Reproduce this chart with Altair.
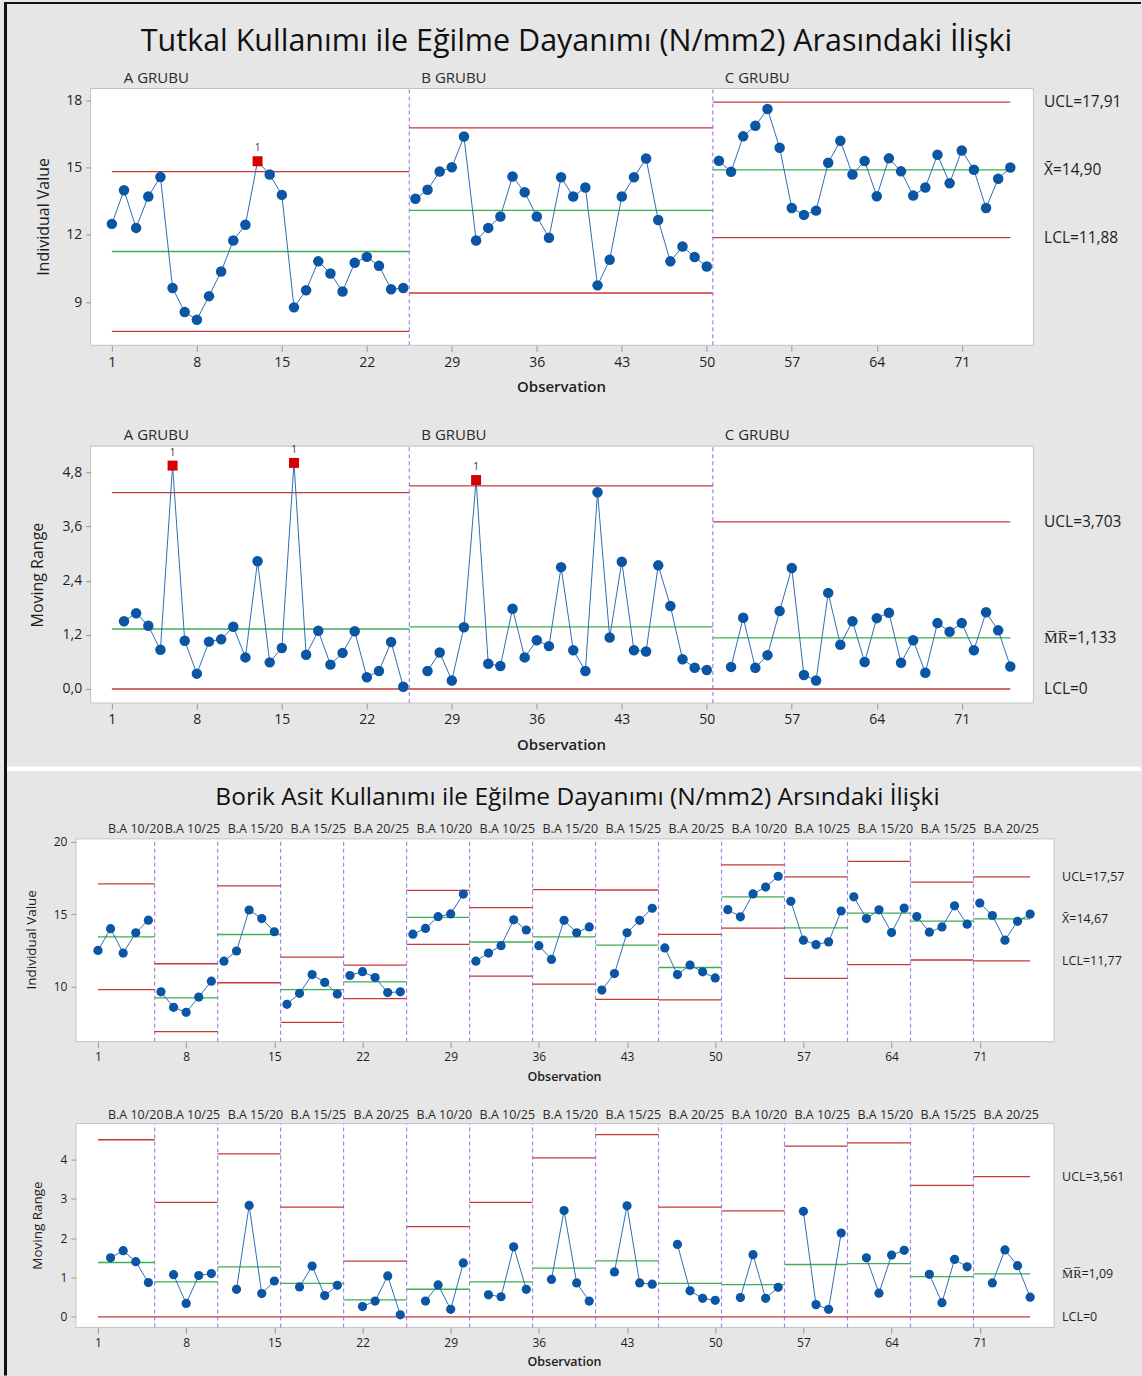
import altair as alt
import pandas as pd

# ---------------- data ----------------
grup_a = [12.49, 13.99, 12.31, 13.71, 14.58, 9.63, 8.56, 8.22, 9.27, 10.37,
          11.75, 12.45, 15.28, 14.69, 13.78, 8.77, 9.53, 10.82, 10.28, 9.48,
          10.76, 11.02, 10.62, 9.58, 9.63]
grup_b = [13.61, 14.01, 14.82, 15.01, 16.38, 11.75, 12.31, 12.82, 14.60, 13.90,
          12.82, 11.87, 14.57, 13.71, 14.11, 9.75, 10.89, 13.71, 14.57, 15.40,
          12.66, 10.82, 11.48, 11.01, 10.59]
grup_c = [15.30, 14.81, 16.39, 16.86, 17.61, 15.88, 13.20, 12.89, 13.08, 15.21,
          16.19, 14.69, 15.29, 13.72, 15.41, 14.83, 13.75, 14.11, 15.57, 14.30,
          15.76, 14.90, 13.20, 14.50, 15.00]
values = grup_a + grup_b + grup_c

top_stages = ["A GRUBU", "B GRUBU", "C GRUBU"]
top_i_ucl = [14.82, 16.77, 17.91]
top_i_cl = [11.26, 13.09, 14.90]
top_i_lcl = [7.70, 9.41, 11.88]
top_mr_ucl = [4.35, 4.50, 3.703]
top_mr_cl = [1.33, 1.377, 1.133]
top_mr_lcl = [0, 0, 0]

bot_stages = ["B.A 10/20", "B.A 10/25", "B.A 15/20", "B.A 15/25", "B.A 20/25"] * 3
bot_i_ucl = [17.09, 11.57, 16.95, 12.03, 11.48, 16.63, 15.44, 16.68, 16.66, 13.60,
             18.40, 17.57, 18.63, 17.21, 17.57]
bot_i_cl = [13.42, 9.21, 13.59, 9.78, 10.32, 14.77, 13.07, 13.42, 12.86, 11.31,
            16.19, 14.05, 15.06, 14.51, 14.67]
bot_i_lcl = [9.78, 6.89, 10.26, 7.53, 9.16, 12.91, 10.72, 10.17, 9.11, 9.07,
             14.03, 10.56, 11.51, 11.83, 11.77]
bot_mr_ucl = [4.50, 2.91, 4.14, 2.79, 1.415, 2.29, 2.91, 4.04, 4.63, 2.79,
              2.69, 4.34, 4.42, 3.34, 3.561]
bot_mr_cl = [1.38, 0.89, 1.27, 0.85, 0.43, 0.70, 0.89, 1.24, 1.42, 0.85,
             0.82, 1.33, 1.35, 1.02, 1.09]
bot_mr_lcl = [0] * 15

x_ticks = [1, 8, 15, 22, 29, 36, 43, 50, 57, 64, 71]

top_i_right = (["UCL=17,91", "X\u0304=14,90", "LCL=11,88"], [17.91, 14.90, 11.88])
top_mr_right = (["UCL=3,703", "M\u0305R\u0305=1,133", "LCL=0"], [3.703, 1.133, 0.0])
bot_i_right = (["UCL=17,57", "X\u0304=14,67", "LCL=11,77"], [17.57, 14.67, 11.77])
bot_mr_right = (["UCL=3,561", "M\u0305R\u0305=1,09", "LCL=0"], [3.561, 1.09, 0.0])

title_top = "Tutkal Kullanımı ile Eğilme Dayanımı (N/mm2) Arasındaki İlişki"
title_bot = "Borik Asit Kullanımı ile Eğilme Dayanımı (N/mm2) Arsındaki İlişki"

# ---------------- styling ----------------
BG = "#e6e6e6"
FONT = "Open Sans"
RED = "#c4393b"
GREEN = "#3fae52"
PURPLE = "#a184ec"
PT = "#0b56a4"
LINE = "#2f6db5"
SQ = "#d60000"
XDOM = [-0.75, 76.9]
N = len(values)


def tables(size, ucl, cl, lcl, moving):
    n = N // size
    pts = []
    for i, v in enumerate(values):
        s = i // size
        if moving:
            if i % size == 0:
                continue
            val = round(abs(v - values[i - 1]), 3)
        else:
            val = v
        pts.append({"obs": i + 1, "val": val, "stage": s,
                    "flag": bool(val > ucl[s] or val < lcl[s])})
    lims = []
    for s in range(n):
        start = 1 if s == 0 else s * size + 0.5
        end = N if s == n - 1 else (s + 1) * size + 0.5
        for kind, y in (("UCL", ucl[s]), ("CL", cl[s]), ("LCL", lcl[s])):
            lims.append({"start": start, "end": end, "y": y, "kind": kind})
    bounds = [s * size + 0.5 for s in range(1, n)]
    starts = [1] + bounds
    return pd.DataFrame(pts), pd.DataFrame(lims), bounds, starts


def panel(size, names, ucl, cl, lcl, moving, right, cfg):
    pts, lims, bounds, starts = tables(size, ucl, cl, lcl, moving)
    ydom = cfg["ydom"]
    xs = alt.Scale(domain=XDOM, nice=False, zero=False, range=cfg["xrange"])
    ys = alt.Scale(domain=ydom, nice=False, zero=False, range=[cfg["h"], cfg["ft"]])
    xaxis = alt.Axis(values=x_ticks, title=None, domain=False, grid=False,
                     tickSize=6, tickColor="#9a9a9a", labelFontSize=cfg["fs"],
                     labelColor="#1e1e1e", labelPadding=4, labelFlush=False,
                     labelOverlap=False, labelFont=FONT, zindex=2)
    ykw = dict(values=cfg["yticks"], title=None, domain=False, grid=False,
               tickSize=5, tickColor="#9a9a9a", labelFontSize=cfg["fs"],
               labelColor="#1e1e1e", labelPadding=4, offset=cfg["yoff"],
               labelOverlap=False, labelFont=FONT, zindex=2)
    if cfg.get("yexpr"):
        ykw["labelExpr"] = cfg["yexpr"]
    yaxis = alt.Axis(**ykw)

    def X(f):
        return alt.X(f, type="quantitative", scale=xs, axis=xaxis)

    def Y(f):
        return alt.Y(f, type="quantitative", scale=ys, axis=yaxis)

    one = pd.DataFrame({"a": [0]})
    layers = list(cfg.get("pre", []))

    frame_df = pd.DataFrame({"x0": [XDOM[0]], "x1": [XDOM[1]], "y0": [ydom[0]], "y1": [ydom[1]]})
    layers.append(alt.Chart(frame_df).mark_rect(fill="white", stroke="#c4c4c4", strokeWidth=1)
                  .encode(x=X("x0"), x2="x1", y=Y("y0"), y2="y1"))

    bdf = pd.DataFrame({"pos": bounds, "y0": [ydom[0]] * len(bounds), "y1": [ydom[1]] * len(bounds)})
    layers.append(alt.Chart(bdf).mark_rule(color=PURPLE, strokeDash=[4, 3], strokeWidth=1.2)
                  .encode(x=X("pos"), y=Y("y0"), y2="y1"))

    layers.append(alt.Chart(lims).mark_rule(strokeWidth=1.3)
                  .encode(x=X("start"), x2="end", y=Y("y"),
                          color=alt.Color("kind:N", legend=None,
                                          scale=alt.Scale(domain=["UCL", "CL", "LCL"],
                                                          range=[RED, GREEN, RED]))))

    layers.append(alt.Chart(pts).mark_line(color=LINE, strokeWidth=1)
                  .encode(x=X("obs"), y=Y("val"), detail="stage:N"))

    layers.append(alt.Chart(pts[~pts["flag"]]).mark_circle(size=cfg["ps"], color=PT, opacity=1)
                  .encode(x=X("obs"), y=Y("val")))

    flagged = pts[pts["flag"]]
    if len(flagged):
        layers.append(alt.Chart(flagged).mark_square(size=cfg["ps"] - 10, color=SQ, opacity=1)
                      .encode(x=X("obs"), y=Y("val")))
        layers.append(alt.Chart(flagged).mark_text(text="1", dy=-13, fontSize=10, font=FONT,
                                                  color="#333333")
                      .encode(x=X("obs"), y=Y("val")))

    rdf = pd.DataFrame({"t": right[0], "v": right[1]})
    layers.append(alt.Chart(rdf).mark_text(align="left", baseline="middle", fontSize=cfg["rfs"],
                                           font=FONT, color="#1e1e1e")
                  .encode(x=alt.value(cfg["rx"]), y=Y("v"), text="t:N"))

    sdf = pd.DataFrame({"pos": starts, "name": names})
    layers.append(alt.Chart(sdf).mark_text(align="left", baseline="middle", dx=cfg["sdx"],
                                           fontSize=cfg["sfs"], font=FONT, color="#2a2a2a")
                  .encode(x=X("pos"), y=alt.value(cfg["sy"]), text="name:N"))

    layers.append(alt.Chart(one).mark_text(text=cfg["ytitle"], angle=270, align="center",
                                           baseline="middle", fontSize=cfg["ytfs"], font=FONT,
                                           color="#1e1e1e")
                  .encode(x=alt.value(cfg["ytx"]), y=alt.value(cfg["yty"])))
    layers.append(alt.Chart(one).mark_text(text="Observation", align="center", baseline="middle",
                                           fontSize=cfg["tfs"], font=FONT, fontWeight=600,
                                           color="#1e1e1e")
                  .encode(x=alt.value(cfg["otx"]), y=alt.value(cfg["oty"])))
    layers += cfg.get("post", [])
    return alt.layer(*layers).properties(width=979, height=cfg["h"])


one = pd.DataFrame({"a": [0]})
pre_c1 = [
    alt.Chart(one).mark_rect(color=BG).encode(x=alt.value(-76), x2=alt.value(1066),
                                              y=alt.value(-88), y2=alt.value(1288)),
    alt.Chart(one).mark_rule(color="#111111", strokeWidth=3).encode(
        x=alt.value(-70.5), y=alt.value(-86), y2=alt.value(1288)),
    alt.Chart(one).mark_rule(color="#111111", strokeWidth=2).encode(
        x=alt.value(-72), x2=alt.value(1066), y=alt.value(-85.5)),
    alt.Chart(one).mark_text(text=title_top, align="center", baseline="middle", fontSize=30.5,
                             font=FONT, color="#111111").encode(x=alt.value(501), y=alt.value(-47)),
]
pre_c3 = [
    alt.Chart(one).mark_rect(color="white").encode(x=alt.value(-69), x2=alt.value(1066),
                                                   y=alt.value(63.5), y2=alt.value(68)),
    alt.Chart(one).mark_text(text=title_bot, align="center", baseline="middle", fontSize=24.5,
                             font=FONT, color="#111111").encode(x=alt.value(502), y=alt.value(95)),
]

top_range = [14.7, 958.3]
bot_range = [0, 979]

c1 = panel(25, top_stages, top_i_ucl, top_i_cl, top_i_lcl, False, top_i_right, dict(
    xrange=top_range, h=257, ft=0, ydom=[7.08, 18.52], yticks=[9, 12, 15, 18], yoff=-14.7,
    fs=14, rfs=15.5, rx=969, sdx=12, sfs=15, sy=-11, ps=110, tfs=15, ytfs=16,
    ytitle="Individual Value", ytx=-32, yty=128.5, otx=486, oty=299, pre=pre_c1))

c2 = panel(25, top_stages, top_mr_ucl, top_mr_cl, top_mr_lcl, True, top_mr_right, dict(
    xrange=top_range, h=358, ft=101, ydom=[-0.31, 5.38], yticks=[0, 1.2, 2.4, 3.6, 4.8],
    yexpr="replace(format(datum.value, '.1f'), '.', ',')", yoff=-14.7,
    fs=14, rfs=15.5, rx=969, sdx=12, sfs=15, sy=90, ps=110, tfs=15, ytfs=16,
    ytitle="Moving Range", ytx=-38, yty=230, otx=486, oty=400))

c3 = panel(5, bot_stages, bot_i_ucl, bot_i_cl, bot_i_lcl, False, bot_i_right, dict(
    xrange=bot_range, h=339, ft=136, ydom=[6.19, 20.19], yticks=[10, 15, 20], yoff=0,
    fs=12, rfs=12.5, rx=987, sdx=10, sfs=12.5, sy=126, ps=85, tfs=12.5, ytfs=13.5,
    ytitle="Individual Value", ytx=-44, yty=237, otx=489, oty=374, pre=pre_c3))

c4 = panel(5, bot_stages, bot_mr_ucl, bot_mr_cl, bot_mr_lcl, True, bot_mr_right, dict(
    xrange=bot_range, h=286, ft=82, ydom=[-0.27, 4.91], yticks=[0, 1, 2, 3, 4], yoff=0,
    fs=12, rfs=12.5, rx=987, sdx=10, sfs=12.5, sy=73, ps=85, tfs=12.5, ytfs=13.5,
    ytitle="Moving Range", ytx=-38, yty=184, otx=489, oty=321))

chart = alt.vconcat(c1, c2, c3, c4, spacing=0, bounds="flush").properties(
    padding=0, background=BG
).configure_view(strokeWidth=0).configure_axis(labelFont=FONT)

chart.save("out.html", embed_options={"renderer": "svg", "actions": False})
